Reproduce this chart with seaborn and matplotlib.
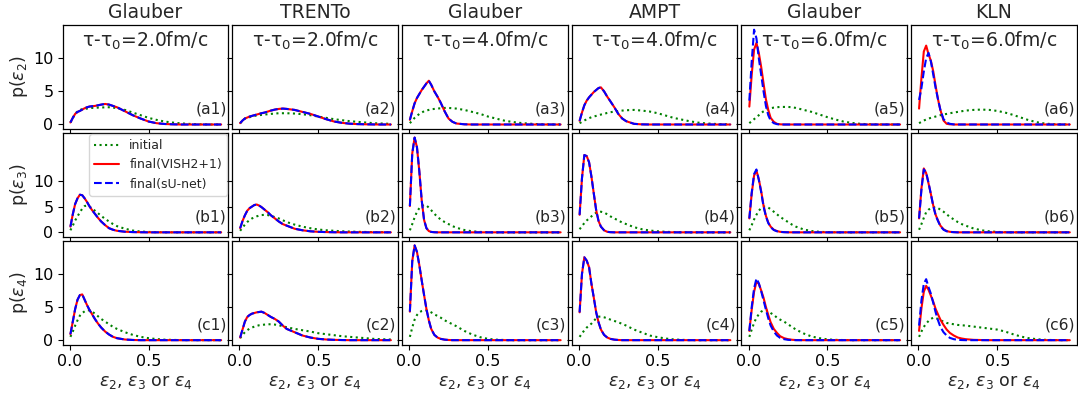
import numpy as np
import matplotlib
matplotlib.use("Agg")
import matplotlib.pyplot as plt
import seaborn as sns

# ---------------- data ----------------
eps = [0.005, 0.02, 0.035, 0.05, 0.065, 0.08, 0.095, 0.11, 0.125, 0.14, 0.16, 0.18, 0.2, 0.225, 0.25,
       0.275, 0.3, 0.35, 0.4, 0.45, 0.5, 0.55, 0.6, 0.65, 0.7, 0.75, 0.8, 0.85, 0.9, 0.96]

col_models = ["Glauber", "TRENTo", "Glauber", "AMPT", "Glauber", "KLN"]
col_times = ["2.0", "2.0", "4.0", "4.0", "6.0", "6.0"]
row_labels = ["a", "b", "c"]
row_ylabels = [r"p($\varepsilon_2$)", r"p($\varepsilon_3$)", r"p($\varepsilon_4$)"]
legend_labels = ["initial", "final(VISH2+1)", "final(sU-net)"]

# row a : p(eps2)
init_a1 = [0.3, 1.0, 1.6, 2.0, 2.2, 2.3, 2.35, 2.4, 2.45, 2.5, 2.5, 2.55, 2.55, 2.6, 2.6, 2.55, 2.45, 2.2, 1.8, 1.4, 1.0, 0.7, 0.45, 0.3, 0.18, 0.1, 0.05, 0.02, 0, 0]
vish_a1 = [0.3, 1.0, 1.6, 1.9, 2.05, 2.25, 2.45, 2.6, 2.7, 2.75, 2.8, 2.9, 3.0, 3.1, 3.0, 2.8, 2.6, 2.0, 1.4, 0.9, 0.45, 0.2, 0.08, 0.03, 0, 0, 0, 0, 0, 0]
unet_a1 = [0.3, 1.0, 1.6, 1.9, 2.05, 2.25, 2.45, 2.6, 2.7, 2.75, 2.8, 2.9, 3.0, 3.1, 3.0, 2.8, 2.6, 2.0, 1.4, 0.9, 0.45, 0.2, 0.08, 0.03, 0, 0, 0, 0, 0, 0]

init_a2 = [0.2, 0.6, 0.9, 1.0, 1.1, 1.2, 1.3, 1.35, 1.4, 1.45, 1.5, 1.55, 1.6, 1.65, 1.7, 1.7, 1.7, 1.65, 1.55, 1.4, 1.2, 1.0, 0.8, 0.65, 0.5, 0.4, 0.3, 0.2, 0.15, 0.1]
vish_a2 = [0.2, 0.6, 0.9, 1.05, 1.2, 1.3, 1.4, 1.5, 1.6, 1.7, 1.8, 1.95, 2.1, 2.25, 2.35, 2.4, 2.35, 2.2, 1.9, 1.6, 1.2, 0.8, 0.45, 0.25, 0.12, 0.06, 0.03, 0.01, 0, 0]
unet_a2 = [0.2, 0.6, 0.9, 1.05, 1.2, 1.3, 1.4, 1.5, 1.6, 1.7, 1.8, 1.95, 2.1, 2.25, 2.35, 2.4, 2.35, 2.2, 1.9, 1.6, 1.2, 0.8, 0.45, 0.25, 0.12, 0.06, 0.03, 0.01, 0, 0]

init_a3 = [0.2, 0.6, 1.0, 1.3, 1.6, 1.8, 2.0, 2.1, 2.2, 2.3, 2.35, 2.4, 2.45, 2.5, 2.5, 2.45, 2.4, 2.2, 1.9, 1.6, 1.2, 0.9, 0.6, 0.4, 0.25, 0.15, 0.07, 0.03, 0.01, 0]
vish_a3 = [0.7, 2.0, 3.2, 4.0, 4.6, 5.2, 5.7, 6.2, 6.6, 6.0, 5.0, 4.2, 3.3, 2.0, 0.9, 0.4, 0.15, 0.03, 0, 0, 0, 0, 0, 0, 0, 0, 0, 0, 0, 0]
unet_a3 = [0.7, 2.0, 3.2, 4.0, 4.6, 5.2, 5.7, 6.2, 6.6, 6.0, 5.0, 4.2, 3.3, 2.0, 0.9, 0.4, 0.15, 0.03, 0, 0, 0, 0, 0, 0, 0, 0, 0, 0, 0, 0]

init_a4 = [0.2, 0.4, 0.6, 0.8, 0.95, 1.1, 1.2, 1.3, 1.4, 1.5, 1.6, 1.75, 1.85, 1.95, 2.05, 2.1, 2.15, 2.2, 2.1, 1.95, 1.7, 1.35, 1.0, 0.75, 0.5, 0.3, 0.18, 0.1, 0.05, 0.02]
vish_a4 = [0.55, 1.8, 2.9, 3.6, 4.1, 4.5, 4.9, 5.2, 5.5, 5.6, 5.0, 4.2, 3.5, 2.6, 1.6, 0.9, 0.5, 0.1, 0.02, 0, 0, 0, 0, 0, 0, 0, 0, 0, 0, 0]
unet_a4 = [0.55, 1.8, 2.9, 3.6, 4.1, 4.5, 4.9, 5.2, 5.5, 5.6, 5.0, 4.2, 3.5, 2.6, 1.6, 0.9, 0.5, 0.1, 0.02, 0, 0, 0, 0, 0, 0, 0, 0, 0, 0, 0]

init_a5 = [0.2, 0.5, 0.8, 1.1, 1.4, 1.7, 2.0, 2.2, 2.35, 2.45, 2.55, 2.6, 2.65, 2.65, 2.65, 2.6, 2.5, 2.2, 1.9, 1.5, 1.1, 0.75, 0.45, 0.25, 0.12, 0.05, 0.02, 0, 0, 0]
vish_a5 = [2.7, 7.5, 11.3, 12.3, 10.8, 8.7, 6.2, 3.8, 2.2, 1.0, 0.4, 0.1, 0.03, 0, 0, 0, 0, 0, 0, 0, 0, 0, 0, 0, 0, 0, 0, 0, 0, 0]
unet_a5 = [3.6, 9.5, 14.3, 13.0, 10.0, 7.5, 5.0, 2.8, 1.4, 0.6, 0.2, 0.05, 0, 0, 0, 0, 0, 0, 0, 0, 0, 0, 0, 0, 0, 0, 0, 0, 0, 0]

init_a6 = [0.2, 0.4, 0.6, 0.75, 0.9, 1.0, 1.1, 1.2, 1.3, 1.4, 1.5, 1.6, 1.7, 1.8, 1.9, 2.0, 2.1, 2.2, 2.25, 2.2, 2.05, 1.8, 1.45, 1.05, 0.65, 0.35, 0.15, 0.05, 0.02, 0]
vish_a6 = [2.4, 7.0, 11.0, 11.9, 10.6, 9.6, 8.0, 5.8, 3.8, 2.2, 0.6, 0.1, 0.03, 0, 0, 0, 0, 0, 0, 0, 0, 0, 0, 0, 0, 0, 0, 0, 0, 0]
unet_a6 = [3.7, 5.5, 8.0, 10.0, 10.8, 9.5, 7.5, 5.5, 3.8, 2.2, 0.8, 0.3, 0.1, 0.02, 0, 0, 0, 0, 0, 0, 0, 0, 0, 0, 0, 0, 0, 0, 0, 0]

# row b : p(eps3)
init_b1 = [0.4, 1.3, 2.3, 3.1, 3.9, 4.6, 5.1, 5.2, 5.0, 4.7, 4.2, 3.7, 3.2, 2.6, 2.1, 1.6, 1.2, 0.7, 0.35, 0.15, 0.08, 0.03, 0.01, 0, 0, 0, 0, 0, 0, 0]
vish_b1 = [1.1, 3.5, 5.5, 6.6, 7.3, 7.2, 6.6, 5.9, 5.1, 4.4, 3.6, 2.8, 2.1, 1.4, 0.8, 0.5, 0.3, 0.12, 0.05, 0.02, 0, 0, 0, 0, 0, 0, 0, 0, 0, 0]
unet_b1 = [1.1, 3.5, 5.5, 6.6, 7.3, 7.2, 6.6, 5.9, 5.1, 4.4, 3.6, 2.8, 2.1, 1.4, 0.8, 0.5, 0.3, 0.12, 0.05, 0.02, 0, 0, 0, 0, 0, 0, 0, 0, 0, 0]

init_b2 = [0.3, 0.9, 1.5, 2.0, 2.4, 2.7, 2.9, 3.1, 3.25, 3.35, 3.4, 3.35, 3.2, 2.95, 2.7, 2.35, 2.0, 1.5, 1.1, 0.8, 0.55, 0.4, 0.3, 0.2, 0.15, 0.1, 0.07, 0.05, 0.03, 0.02]
vish_b2 = [0.8, 2.2, 3.3, 4.2, 4.7, 5.0, 5.3, 5.4, 5.2, 4.9, 4.4, 3.9, 3.3, 2.7, 2.1, 1.6, 1.3, 0.7, 0.4, 0.2, 0.1, 0.05, 0.02, 0, 0, 0, 0, 0, 0, 0]
unet_b2 = [0.8, 2.2, 3.3, 4.2, 4.7, 5.0, 5.3, 5.4, 5.2, 4.9, 4.4, 3.9, 3.3, 2.7, 2.1, 1.6, 1.3, 0.7, 0.4, 0.2, 0.1, 0.05, 0.02, 0, 0, 0, 0, 0, 0, 0]

init_b3 = [0.4, 1.6, 2.9, 4.0, 4.7, 5.1, 5.3, 5.2, 4.8, 4.3, 3.6, 3.0, 2.5, 2.0, 1.6, 1.2, 0.9, 0.45, 0.2, 0.08, 0.03, 0, 0, 0, 0, 0, 0, 0, 0, 0]
vish_b3 = [5.1, 15.3, 18.4, 16.5, 11.8, 6.2, 2.4, 0.8, 0.25, 0.08, 0.02, 0, 0, 0, 0, 0, 0, 0, 0, 0, 0, 0, 0, 0, 0, 0, 0, 0, 0, 0]
unet_b3 = [5.1, 15.3, 18.4, 16.5, 11.8, 6.2, 2.4, 0.8, 0.25, 0.08, 0.02, 0, 0, 0, 0, 0, 0, 0, 0, 0, 0, 0, 0, 0, 0, 0, 0, 0, 0, 0]

init_b4 = [0.6, 1.2, 1.8, 2.3, 2.7, 3.1, 3.5, 3.8, 3.95, 4.0, 3.85, 3.5, 3.1, 2.7, 2.3, 1.9, 1.6, 1.0, 0.6, 0.35, 0.2, 0.1, 0.05, 0.02, 0, 0, 0, 0, 0, 0]
vish_b4 = [3.4, 10.5, 15.0, 14.8, 13.6, 10.8, 7.5, 4.3, 2.2, 1.1, 0.4, 0.1, 0.03, 0, 0, 0, 0, 0, 0, 0, 0, 0, 0, 0, 0, 0, 0, 0, 0, 0]
unet_b4 = [3.4, 10.5, 15.0, 14.8, 13.6, 10.8, 7.5, 4.3, 2.2, 1.1, 0.4, 0.1, 0.03, 0, 0, 0, 0, 0, 0, 0, 0, 0, 0, 0, 0, 0, 0, 0, 0, 0]

init_b5 = [0.4, 1.4, 2.5, 3.4, 4.2, 4.7, 5.0, 5.0, 4.8, 4.5, 4.0, 3.5, 3.0, 2.5, 2.0, 1.5, 1.1, 0.55, 0.25, 0.1, 0.04, 0.01, 0, 0, 0, 0, 0, 0, 0, 0]
vish_b5 = [2.7, 7.5, 11.0, 12.0, 10.3, 8.0, 5.2, 3.2, 1.9, 1.1, 0.5, 0.25, 0.1, 0.04, 0.01, 0, 0, 0, 0, 0, 0, 0, 0, 0, 0, 0, 0, 0, 0, 0]
unet_b5 = [2.7, 7.7, 11.3, 12.2, 10.2, 7.8, 5.0, 3.1, 1.8, 1.0, 0.45, 0.2, 0.08, 0.03, 0.01, 0, 0, 0, 0, 0, 0, 0, 0, 0, 0, 0, 0, 0, 0, 0]

init_b6 = [0.5, 1.6, 2.8, 3.9, 4.4, 4.7, 4.85, 4.9, 4.7, 4.4, 4.0, 3.5, 3.0, 2.5, 2.0, 1.6, 1.3, 0.75, 0.4, 0.2, 0.08, 0.03, 0, 0, 0, 0, 0, 0, 0, 0]
vish_b6 = [2.7, 8.5, 12.4, 11.5, 9.5, 7.4, 5.2, 3.4, 2.3, 1.3, 0.6, 0.25, 0.1, 0.04, 0, 0, 0, 0, 0, 0, 0, 0, 0, 0, 0, 0, 0, 0, 0, 0]
unet_b6 = [2.7, 8.3, 12.2, 11.6, 9.6, 7.4, 5.1, 3.3, 2.2, 1.2, 0.5, 0.2, 0.08, 0.03, 0, 0, 0, 0, 0, 0, 0, 0, 0, 0, 0, 0, 0, 0, 0, 0]

# row c : p(eps4)
init_c1 = [0.5, 1.3, 2.2, 3.0, 3.7, 4.1, 4.35, 4.5, 4.5, 4.35, 4.0, 3.6, 3.2, 2.8, 2.4, 2.0, 1.7, 1.2, 0.8, 0.5, 0.3, 0.17, 0.08, 0.04, 0.02, 0, 0, 0, 0, 0]
vish_c1 = [0.9, 2.8, 4.7, 6.1, 6.8, 6.9, 6.1, 5.3, 4.6, 4.0, 3.2, 2.5, 1.9, 1.3, 0.85, 0.5, 0.3, 0.1, 0.03, 0, 0, 0, 0, 0, 0, 0, 0, 0, 0, 0]
unet_c1 = [0.9, 2.8, 4.7, 6.1, 6.8, 6.9, 6.1, 5.3, 4.6, 4.0, 3.2, 2.5, 1.9, 1.3, 0.85, 0.5, 0.3, 0.1, 0.03, 0, 0, 0, 0, 0, 0, 0, 0, 0, 0, 0]

init_c2 = [0.3, 0.8, 1.2, 1.5, 1.75, 1.9, 2.05, 2.15, 2.25, 2.3, 2.35, 2.4, 2.4, 2.35, 2.25, 2.1, 1.95, 1.7, 1.5, 1.3, 1.05, 0.9, 0.75, 0.6, 0.5, 0.4, 0.3, 0.2, 0.15, 0.1]
vish_c2 = [0.4, 1.6, 2.8, 3.5, 3.8, 4.0, 4.1, 4.2, 4.25, 4.3, 4.1, 3.8, 3.5, 3.2, 2.8, 2.2, 1.7, 1.2, 0.7, 0.4, 0.2, 0.1, 0.05, 0.02, 0, 0, 0, 0, 0, 0]
unet_c2 = [0.4, 1.6, 2.8, 3.5, 3.8, 4.0, 4.1, 4.2, 4.25, 4.3, 4.1, 3.8, 3.5, 3.2, 2.8, 2.2, 1.7, 1.2, 0.7, 0.4, 0.2, 0.1, 0.05, 0.02, 0, 0, 0, 0, 0, 0]

init_c3 = [0.5, 1.9, 3.1, 3.8, 4.2, 4.4, 4.5, 4.5, 4.4, 4.2, 3.9, 3.65, 3.4, 3.0, 2.7, 2.4, 2.1, 1.4, 0.85, 0.45, 0.2, 0.08, 0.03, 0, 0, 0, 0, 0, 0, 0]
vish_c3 = [4.3, 11.9, 14.3, 13.3, 11.3, 9.0, 6.8, 4.7, 3.0, 1.7, 0.8, 0.4, 0.2, 0.08, 0.03, 0, 0, 0, 0, 0, 0, 0, 0, 0, 0, 0, 0, 0, 0, 0]
unet_c3 = [4.3, 11.9, 14.3, 13.3, 11.3, 9.0, 6.8, 4.7, 3.0, 1.7, 0.8, 0.4, 0.2, 0.08, 0.03, 0, 0, 0, 0, 0, 0, 0, 0, 0, 0, 0, 0, 0, 0, 0]

init_c4 = [0.5, 1.0, 1.5, 1.9, 2.2, 2.5, 2.9, 3.3, 3.55, 3.55, 3.45, 3.3, 3.1, 2.9, 2.7, 2.45, 2.2, 1.6, 1.15, 0.7, 0.45, 0.25, 0.12, 0.05, 0.02, 0, 0, 0, 0, 0]
vish_c4 = [4.2, 10.0, 12.5, 12.0, 11.0, 8.5, 6.4, 4.2, 2.7, 1.6, 0.8, 0.4, 0.2, 0.08, 0.03, 0, 0, 0, 0, 0, 0, 0, 0, 0, 0, 0, 0, 0, 0, 0]
unet_c4 = [4.2, 10.0, 12.5, 12.0, 11.0, 8.5, 6.4, 4.2, 2.7, 1.6, 0.8, 0.4, 0.2, 0.08, 0.03, 0, 0, 0, 0, 0, 0, 0, 0, 0, 0, 0, 0, 0, 0, 0]

init_c5 = [0.5, 1.6, 2.6, 3.4, 3.9, 4.3, 4.5, 4.5, 4.4, 4.1, 3.8, 3.4, 3.1, 2.8, 2.4, 2.0, 1.6, 1.0, 0.55, 0.3, 0.12, 0.05, 0.02, 0, 0, 0, 0, 0, 0, 0]
vish_c5 = [1.4, 4.6, 7.3, 8.8, 8.5, 7.5, 6.4, 5.0, 3.8, 2.7, 1.7, 1.1, 0.6, 0.3, 0.15, 0.06, 0.02, 0, 0, 0, 0, 0, 0, 0, 0, 0, 0, 0, 0, 0]
unet_c5 = [1.4, 5.0, 7.8, 9.3, 8.6, 7.4, 6.0, 4.6, 3.3, 2.2, 1.3, 0.7, 0.35, 0.15, 0.05, 0.02, 0, 0, 0, 0, 0, 0, 0, 0, 0, 0, 0, 0, 0, 0]

init_c6 = [0.5, 1.3, 2.0, 2.5, 2.9, 3.2, 3.4, 3.35, 3.2, 3.0, 2.8, 2.6, 2.5, 2.4, 2.3, 2.25, 2.2, 2.05, 1.9, 1.75, 1.6, 1.3, 0.9, 0.55, 0.3, 0.15, 0.06, 0.02, 0, 0]
vish_c6 = [1.4, 4.8, 7.3, 8.2, 7.6, 6.7, 5.8, 4.7, 3.9, 3.1, 2.3, 1.6, 1.1, 0.7, 0.4, 0.25, 0.15, 0.05, 0.02, 0, 0, 0, 0, 0, 0, 0, 0, 0, 0, 0]
unet_c6 = [2.2, 6.0, 8.5, 9.2, 8.0, 7.0, 5.6, 4.2, 3.0, 2.0, 1.2, 0.7, 0.35, 0.15, 0.05, 0.02, 0, 0, 0, 0, 0, 0, 0, 0, 0, 0, 0, 0, 0, 0]

initial = [[init_a1, init_a2, init_a3, init_a4, init_a5, init_a6],
           [init_b1, init_b2, init_b3, init_b4, init_b5, init_b6],
           [init_c1, init_c2, init_c3, init_c4, init_c5, init_c6]]
final_vish = [[vish_a1, vish_a2, vish_a3, vish_a4, vish_a5, vish_a6],
              [vish_b1, vish_b2, vish_b3, vish_b4, vish_b5, vish_b6],
              [vish_c1, vish_c2, vish_c3, vish_c4, vish_c5, vish_c6]]
final_unet = [[unet_a1, unet_a2, unet_a3, unet_a4, unet_a5, unet_a6],
              [unet_b1, unet_b2, unet_b3, unet_b4, unet_b5, unet_b6],
              [unet_c1, unet_c2, unet_c3, unet_c4, unet_c5, unet_c6]]

# ---------------- plot ----------------
sns.set_style("ticks")
plt.rcParams["font.family"] = ["DejaVu Sans"]
plt.rcParams["mathtext.fontset"] = "dejavusans"
plt.rcParams["axes.edgecolor"] = "black"
plt.rcParams["xtick.color"] = "black"
plt.rcParams["ytick.color"] = "black"
plt.rcParams["axes.linewidth"] = 0.9

fig, axes = plt.subplots(3, 6, figsize=(10.78, 3.96), dpi=100, sharex=True, sharey="row")
fig.subplots_adjust(left=0.058, right=0.999, top=0.937, bottom=0.129, wspace=0.024, hspace=0.034)

for r in range(3):
    for c in range(6):
        ax = axes[r, c]
        sns.lineplot(x=eps, y=initial[r][c], ax=ax, color="green", linestyle=":", linewidth=1.5,
                     label=legend_labels[0])
        sns.lineplot(x=eps, y=final_vish[r][c], ax=ax, color="red", linestyle="-", linewidth=1.5,
                     label=legend_labels[1])
        sns.lineplot(x=eps, y=final_unet[r][c], ax=ax, color="blue", linestyle="--", linewidth=1.5,
                     label=legend_labels[2])
        if ax.get_legend() is not None:
            ax.get_legend().remove()
        ax.set_xlim(-0.045, 1.005)
        ax.set_xticks([0.0, 0.5])
        ax.set_yticks([0, 5, 10])
        ax.tick_params(labelsize=11.5, length=3.5, width=0.8, direction="out", pad=3)
        ax.text(0.99, 0.19, f"({row_labels[r]}{c + 1})", transform=ax.transAxes,
                ha="right", va="center", fontsize=11.2)
        if r == 0:
            ax.set_title(col_models[c], fontsize=13.5, pad=5)
            ax.text(0.5, 0.85, "τ-τ$_0$=" + col_times[c] + "fm/c", transform=ax.transAxes,
                    ha="center", va="center", fontsize=13.5)
        if c == 0:
            ax.set_ylabel(row_ylabels[r], fontsize=12.5, labelpad=2)
        else:
            ax.set_ylabel("")
        if r == 2:
            ax.set_xlabel(r"$\varepsilon_2$, $\varepsilon_3$ or $\varepsilon_4$", fontsize=12.5, labelpad=3)
        else:
            ax.set_xlabel("")

handles, labels = axes[1, 0].get_legend_handles_labels()
axes[1, 0].legend(handles, labels, loc="upper right", fontsize=9, borderaxespad=0.1,
                  frameon=True, fancybox=True, framealpha=0.8)

fig.savefig("out.png", dpi=100)
